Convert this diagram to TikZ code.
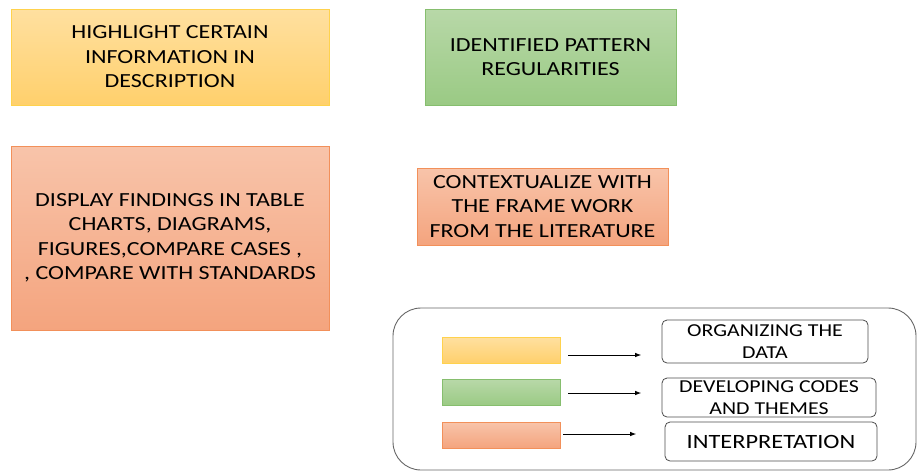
\documentclass[tikz,border=0pt]{standalone}
\usepackage{fontspec}
\setmainfont{Carlito}[FakeStretch=1.2]
\usetikzlibrary{arrows.meta}

\definecolor{ylwtop}{HTML}{FFE0A0}
\definecolor{ylwbot}{HTML}{FFD06C}
\definecolor{ylwline}{HTML}{FFD24D}
\definecolor{grntop}{HTML}{B8D8A8}
\definecolor{grnbot}{HTML}{9ACA84}
\definecolor{grnline}{HTML}{86BE6E}
\definecolor{saltop}{HTML}{F8C4AA}
\definecolor{salbot}{HTML}{F4A47E}
\definecolor{salline}{HTML}{F2905A}

\tikzset{
  box/.style={draw, inner sep=0pt, align=center, font=\fontsize{20}{24.5}\selectfont},
  ylwbox/.style={box, draw=ylwline, top color=ylwtop, bottom color=ylwbot},
  grnbox/.style={box, draw=grnline, top color=grntop, bottom color=grnbot},
  salbox/.style={box, draw=salline, top color=saltop, bottom color=salbot},
  key/.style={minimum width=118pt, minimum height=26pt, font=\relax},
  stage/.style={draw=black!70, line width=0.8pt, rounded corners=5pt, inner sep=0pt, align=center,
    font=\fontsize{18.2}{22}\selectfont},
  arr/.style={-{Latex[length=6pt,width=4.5pt]}, line width=0.9pt},
}

\begin{document}
\begin{tikzpicture}[x=1pt,y=-1pt]
\useasboundingbox (0,0) rectangle (918,472);

% top row
\node[ylwbox, minimum width=318pt, minimum height=96pt] (hl) at (170,57)
  {HIGHLIGHT CERTAIN\\INFORMATION IN\\DESCRIPTION};
\node[grnbox, minimum width=251pt, minimum height=96pt] (pat) at (550.5,57)
  {IDENTIFIED PATTERN\\REGULARITIES};

% second row
\node[salbox, minimum width=318pt, minimum height=184pt] (disp) at (170,238)
  {DISPLAY FINDINGS IN TABLE\\CHARTS, DIAGRAMS,\\FIGURES,COMPARE CASES ,\\, COMPARE WITH STANDARDS};
\node[salbox, minimum width=251pt, minimum height=77pt] (ctx) at (542.5,206.5)
  {CONTEXTUALIZE WITH\\THE FRAME WORK\\FROM THE LITERATURE};

% legend
\draw[black!60, line width=0.9pt, rounded corners=28pt] (393,308) rectangle (916,470);
\node[ylwbox, key] (ky) at (501,350) {};
\node[grnbox, key] (kg) at (501,392.5) {};
\node[salbox, key] (ks) at (501,435) {};

\node[stage, minimum width=206pt, minimum height=43pt] (org) at (765,341.5)
  {ORGANIZING THE\\DATA};
\node[stage, minimum width=214pt, minimum height=39pt] (dev) at (769,397.5)
  {DEVELOPING CODES\\AND THEMES};
\node[stage, minimum width=212pt, minimum height=39pt, font=\fontsize{20.3}{22}\selectfont] (intp) at (771,441.5)
  {INTERPRETATION};

\draw[arr] (ky.east) ++(8,5) -- ++(73,0);
\draw[arr] (kg.east) ++(8,0.5) -- ++(73,0);
\draw[arr] (ks.east) ++(3,-1) -- ++(73,0);
\end{tikzpicture}
\end{document}
